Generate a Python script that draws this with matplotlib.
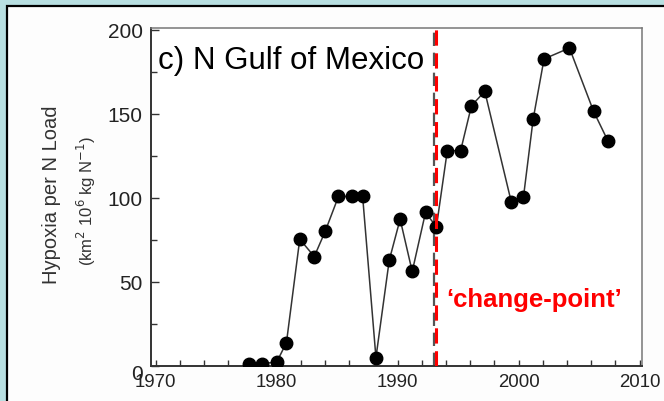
import matplotlib
matplotlib.use("Agg")
import matplotlib.pyplot as plt
import matplotlib.transforms as mtransforms
from matplotlib.patches import Rectangle
from matplotlib.ticker import MultipleLocator

# values
years = [1977.7, 1978.8, 1980.0, 1980.8, 1981.9, 1983.1, 1984.0, 1985.1, 1986.2,
         1987.1, 1988.2, 1989.3, 1990.2, 1991.2, 1992.3, 1993.2, 1994.1, 1995.2,
         1996.1, 1997.2, 1999.4, 2000.4, 2001.2, 2002.1, 2004.2, 2006.2, 2007.4]
hypoxia = [1.4, 1.4, 2.4, 13.9, 75.4, 65.1, 80.0, 100.8, 100.8,
           100.8, 5.0, 62.9, 87.3, 56.2, 91.3, 82.7, 128.0, 128.0,
           154.8, 163.3, 97.3, 100.6, 146.8, 182.6, 189.1, 151.4, 133.6]
change_year = 1993.15
xticks = [1970, 1980, 1990, 2000, 2010]
yticks = [0, 50, 100, 150, 200]

fig = plt.figure(figsize=(6.64, 4.02), dpi=100, facecolor="#b8dfe1")

# white panel with black frame
panel = Rectangle((7 / 664, -0.1), 1.2, 0.1 + 1 - 7 / 402, transform=fig.transFigure,
                  facecolor="#fdfdfd", edgecolor="black", linewidth=1.6, zorder=0)
fig.add_artist(panel)

ax = fig.add_axes([151 / 664, 35 / 402, 491 / 664, 338 / 402])
ax.set_facecolor("white")

ax.plot(years, hypoxia, color="#333333", linewidth=1.1, marker="o",
        markersize=9, markerfacecolor="black", markeredgecolor="black", zorder=3)

ax.axvline(change_year - 0.17, color="#555555", linewidth=1.6, dashes=(6, 3), zorder=2)
ax.axvline(change_year, color="red", linewidth=2.2, dashes=(5, 2.5), zorder=4)

ax.set_xlim(1969.6, 2010.2)
ax.set_ylim(0, 201)
ax.set_xticks(xticks)
ax.set_yticks(yticks)
ax.xaxis.set_minor_locator(MultipleLocator(2))
ax.yaxis.set_minor_locator(MultipleLocator(25))

ax.tick_params(axis="x", which="both", direction="in", length=4, width=1,
               color="#333333", pad=5, labelsize=13.4, top=False)
ax.tick_params(axis="y", which="major", direction="in", length=6, width=1,
               color="#333333", pad=6, labelsize=15, right=False)
ax.tick_params(axis="y", which="minor", direction="in", length=4, width=1,
               color="#333333", right=False)
for lab in ax.get_xticklabels():
    lab.set_family(["Liberation Sans Narrow", "Liberation Sans", "DejaVu Sans"])
    lab.set_color("#222222")
for lab in ax.get_yticklabels():
    lab.set_family(["Liberation Sans", "DejaVu Sans"])
    lab.set_color("#222222")
# the "0" sits a little low in the original
zero = ax.get_yticklabels()[0]
zero.set_transform(zero.get_transform() +
                   mtransforms.ScaledTranslation(0, -5.5 / 100, fig.dpi_scale_trans))

for side in ["left", "bottom"]:
    ax.spines[side].set_color("#333333")
    ax.spines[side].set_linewidth(1.4)
for side in ["top", "right"]:
    ax.spines[side].set_color("#777777")
    ax.spines[side].set_linewidth(1.1)

fig.text(52 / 664, 207 / 402, "Hypoxia per N Load", rotation=90, ha="center",
         va="center", fontsize=14.5, color="#333333", family="Liberation Sans")
fig.text(86 / 664, 201 / 402, r"(km$^{2}$ 10$^{6}$ kg N$^{-1}$)", rotation=90,
         ha="center", va="center", fontsize=12, color="#333333", family="Liberation Sans")

ax.text(0.014, 0.8817, "c) N Gulf of Mexico", transform=ax.transAxes, ha="left",
        va="baseline", fontsize=22.5, color="black", family="Liberation Sans", zorder=5)
ax.text(1994.05, 0.1775, "\u2018change-point\u2019",
        transform=mtransforms.blended_transform_factory(ax.transData, ax.transAxes),
        ha="left", va="baseline", fontsize=18.5, fontweight="bold", color="red",
        family="Liberation Sans", zorder=5)

fig.savefig("out.png", dpi=100, facecolor=fig.get_facecolor())
